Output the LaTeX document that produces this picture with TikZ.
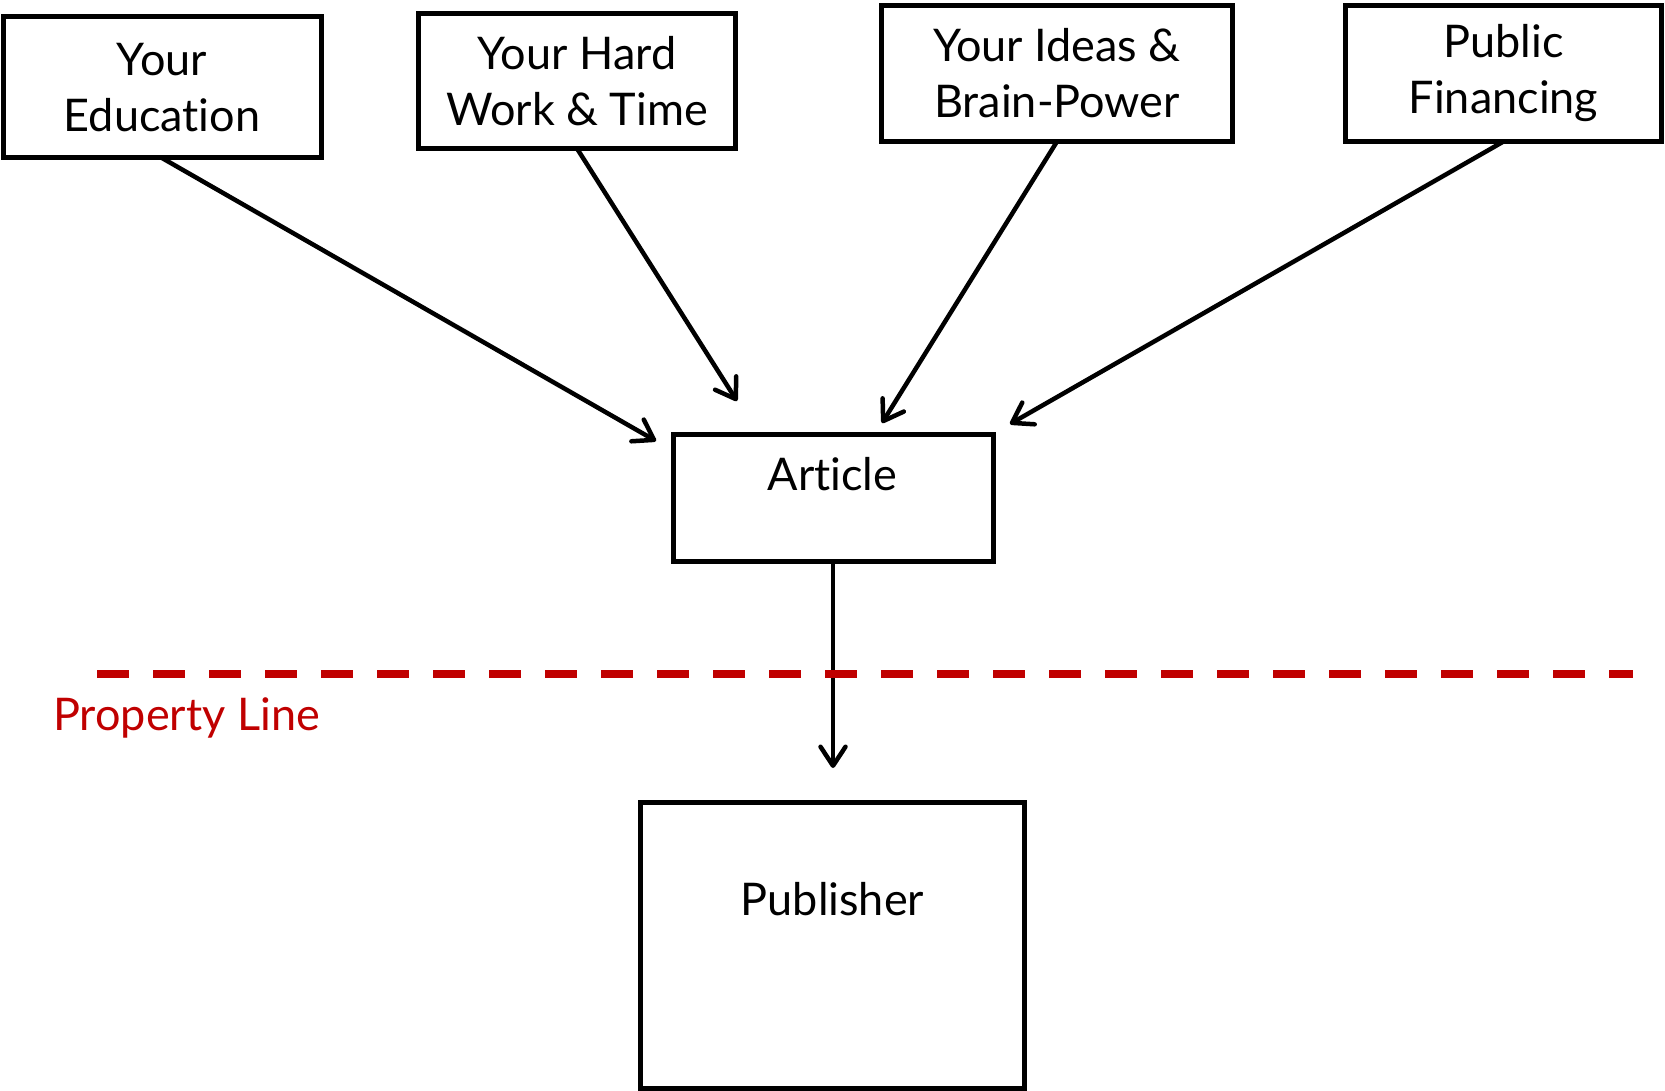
\documentclass[tikz,border=0pt]{standalone}
\usepackage{fontspec}
\setmainfont{Lato}[Ligatures=NoCommon]
\usetikzlibrary{arrows.meta}
\definecolor{propred}{HTML}{C00000}
\begin{document}
\begin{tikzpicture}[x=1pt,y=-1pt,
  txt/.style={font=\fontsize{45}{56}\selectfont, align=center, inner sep=0pt},
  srcbox/.style={draw, line width=5pt, rectangle, anchor=north west, inner sep=0pt, outer sep=0pt, txt},
  plainbox/.style={draw, line width=5pt, rectangle, anchor=north west, inner sep=0pt, outer sep=0pt},
  conn/.style={line width=4.5pt, line cap=round, line join=round,
    -{Straight Barb[length=19pt,width=25pt,line cap=round,line join=round]}}
]
\useasboundingbox (0,0) rectangle (1665,1091);
% source boxes
\node[srcbox, minimum width=318pt, minimum height=141pt] (edu) at (3,17) {Your\\Education};
\node[srcbox, minimum width=317pt, minimum height=135pt] (work) at (418.5,13.5) {Your Hard\\Work \& Time};
\node[srcbox, minimum width=351pt, minimum height=136pt] (ideas) at (881.5,5.5) {Your Ideas \&\\Brain-Power};
\node[srcbox, minimum width=316pt, minimum height=136pt] (fin) at (1345.5,5.5) {Public\\Financing};
% article and publisher
\node[plainbox, minimum width=320pt, minimum height=127pt] (art) at (673,434.5) {};
\node[txt, anchor=base] (artlbl) at (832.5,490) {Article};
\node[plainbox, minimum width=384pt, minimum height=286pt] (pub) at (640.5,802) {};
\node[txt, anchor=base] (publbl) at (832.5,915) {Publisher};
% arrow ends
\coordinate (t1) at (656,441);
\coordinate (t2) at (737,401);
\coordinate (t3) at (882,423);
\coordinate (t4) at (1010,424);
\coordinate (t5) at (833,768);
\draw[conn] (edu.south) -- (t1);
\draw[conn] (work.south) -- (t2);
\draw[conn] (ideas.south) -- (t3);
\draw[conn] (fin.south) -- (t4);
\draw[conn] (art.south) -- (t5);
% property line
\coordinate (pl1) at (97,674);
\coordinate (pl2) at (1633,674);
\draw[propred, line width=8pt, dash pattern=on 32pt off 24pt] (pl1) -- (pl2);
\node[txt, text=propred, anchor=base west] (pltxt) at (53,730) {Property Line};
\end{tikzpicture}
\end{document}
